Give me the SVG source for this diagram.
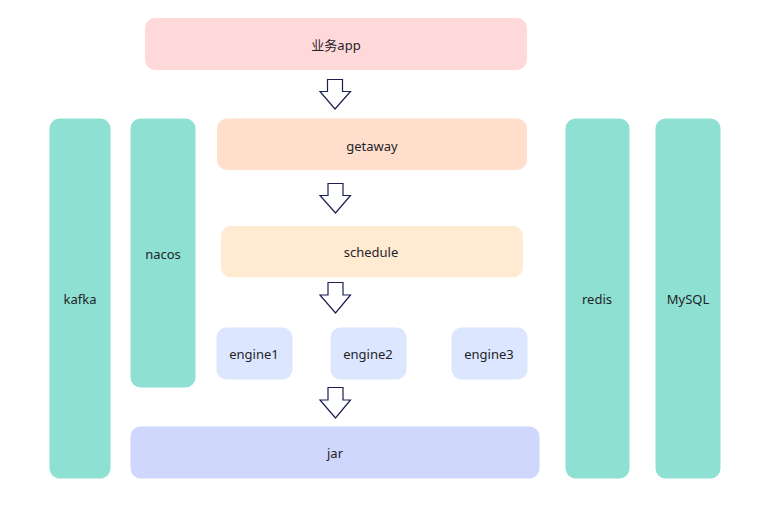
<svg xmlns="http://www.w3.org/2000/svg" width="762" height="515" viewBox="0 0 762 515">
<style>
.t{font-family:"Noto Sans","Noto Sans CJK SC",sans-serif;font-size:13px;fill:#1f2329;text-anchor:middle;dominant-baseline:central}
.teal{fill:#8ee0d2}
.arr{fill:#ffffff;stroke:#1b2150;stroke-width:1.2;stroke-linejoin:miter}
</style>
<rect width="762" height="515" fill="#ffffff"/>
<g id="app"><rect x="145" y="18" width="382" height="52" rx="10" fill="#ffd9d9"/><text class="t" x="336" y="45">业务app</text></g>
<g id="kafka"><rect class="teal" x="49.500" y="118.500" width="61" height="360" rx="10"/><text class="t" x="80" y="299">kafka</text></g>
<g id="nacos"><rect class="teal" x="130.500" y="118.500" width="65" height="269" rx="10"/><text class="t" x="163" y="254">nacos</text></g>
<g id="getaway"><rect x="217" y="118.500" width="310" height="51.500" rx="10" fill="#ffdfcc"/><text class="t" x="372" y="146">getaway</text></g>
<g id="schedule"><rect x="221" y="226" width="302" height="51.500" rx="10" fill="#ffebd1"/><text class="t" x="371" y="252">schedule</text></g>
<g id="engine1"><rect x="216.500" y="327.500" width="76" height="52" rx="10" fill="#dde6ff"/><text class="t" x="254" y="354">engine1</text></g>
<g id="engine2"><rect x="330.500" y="327.500" width="76" height="52" rx="10" fill="#dde6ff"/><text class="t" x="368" y="354">engine2</text></g>
<g id="engine3"><rect x="451.500" y="327.500" width="76" height="52" rx="10" fill="#dde6ff"/><text class="t" x="489" y="354">engine3</text></g>
<g id="jar"><rect x="130.500" y="426.500" width="409" height="52" rx="10" fill="#d0d7fd"/><text class="t" x="335" y="453">jar</text></g>
<g id="redis"><rect class="teal" x="565.500" y="118.500" width="64" height="360" rx="10"/><text class="t" x="597" y="299">redis</text></g>
<g id="mysql"><rect class="teal" x="655.500" y="118.500" width="65" height="360" rx="10"/><text class="t" x="688" y="299">MySQL</text></g>
<g id="connectors">
<path class="arr" d="M327.500 79.500H342.500V91.500H350.500L335 109L320 91.500H327.500Z"/>
<path class="arr" d="M328 183.500H343V195.500H350.500L335.500 213L320 195.500H328Z"/>
<path class="arr" d="M328 282.500H343V295H350.500L335.500 313L320 295H328Z"/>
<path class="arr" d="M328 387.500H343V400H350.500L335.500 418L320 400H328Z"/>
</g>
</svg>
